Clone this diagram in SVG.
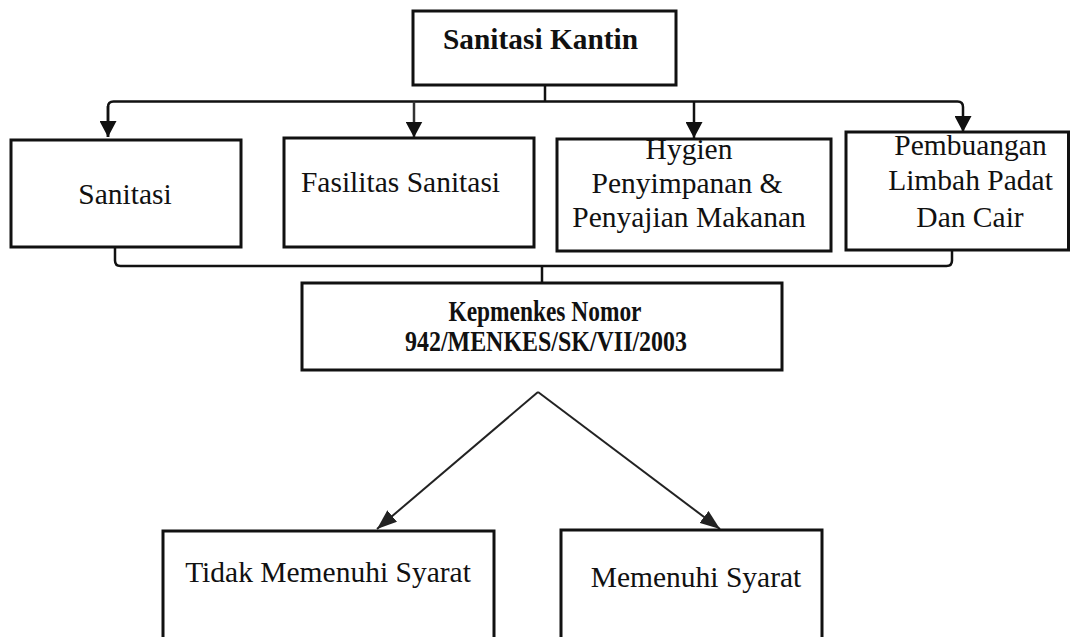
<svg xmlns="http://www.w3.org/2000/svg" width="1070" height="637" viewBox="0 0 1070 637">
<style>
.box{fill:#fff;stroke:#111;stroke-width:3}
.t{font-family:"Liberation Serif","Times New Roman",serif;font-size:29.5px;fill:#111;text-anchor:middle}
.b{font-weight:bold}
.c{fill:none;stroke:#111;stroke-width:2.5}
.d{fill:none;stroke:#222;stroke-width:2}
</style>
<defs>
<marker id="ah" markerUnits="userSpaceOnUse" markerWidth="17" markerHeight="17" viewBox="0 0 17 17" refX="16" refY="8.5" orient="auto">
<path d="M0,0 L16,8.5 L0,17 Z" fill="#111"/>
</marker>
<marker id="ah2" markerUnits="userSpaceOnUse" markerWidth="20" markerHeight="15" viewBox="0 0 20 15" refX="20" refY="7.5" orient="auto">
<path d="M0,0 L20,7.5 L0,15 Z" fill="#222"/>
</marker>
</defs>
<rect width="1070" height="637" fill="#fff"/>
<g id="connectors">
<line class="c" x1="545" y1="85" x2="545" y2="101.5"/>
<path class="c" d="M108,137 V107 Q108,101.5 113.5,101.5 H957.5 Q963,101.5 963,107 V132" marker-end="url(#ah)"/>
<path class="c" d="M108,106 V137" marker-end="url(#ah)"/>
<line class="c" x1="414" y1="101.5" x2="414" y2="137.5" marker-end="url(#ah)" style="stroke:#333"/>
<line class="c" x1="694" y1="101.5" x2="694" y2="138" marker-end="url(#ah)"/>
<path class="c" d="M115,240 V260.5 Q115,266 120.5,266 H946.5 Q952,266 952,260.5 V240"/>
<line class="c" x1="542" y1="266" x2="542" y2="283"/>
<line class="d" x1="538" y1="392" x2="377" y2="529" marker-end="url(#ah2)"/>
<line class="d" x1="538" y1="392" x2="720" y2="529" marker-end="url(#ah2)"/>
</g>
<g id="n-sanitasi-kantin">
<rect class="box" x="413" y="11" width="263" height="74"/>
<text class="t b" x="540.5" y="49" font-size="31" textLength="195" lengthAdjust="spacingAndGlyphs">Sanitasi Kantin</text>
</g>
<g id="n-sanitasi">
<rect class="box" x="11" y="140" width="230" height="107"/>
<text class="t" x="125" y="204">Sanitasi</text>
</g>
<g id="n-fasilitas">
<rect class="box" x="284" y="138" width="250" height="109"/>
<text class="t" x="400.5" y="192">Fasilitas Sanitasi</text>
</g>
<g id="n-hygien">
<rect class="box" x="557" y="139" width="274" height="112"/>
<text class="t" x="689" y="159">Hygien</text>
<text class="t" x="687" y="193">Penyimpanan &amp;</text>
<text class="t" x="689" y="227">Penyajian Makanan</text>
</g>
<g id="n-pembuangan">
<rect class="box" x="846" y="132" width="222.5" height="118"/>
<text class="t" x="970.5" y="155">Pembuangan</text>
<text class="t" x="970.5" y="190">Limbah Padat</text>
<text class="t" x="970" y="227">Dan Cair</text>
</g>
<g id="n-kepmenkes">
<rect class="box" x="302" y="283" width="480" height="87"/>
<text class="t b" x="545" y="321" font-size="23" textLength="193" lengthAdjust="spacingAndGlyphs">Kepmenkes Nomor</text>
<text class="t b" x="546" y="351" font-size="23" textLength="282" lengthAdjust="spacingAndGlyphs">942/MENKES/SK/VII/2003</text>
</g>
<g id="n-tidak">
<rect class="box" x="163" y="531" width="331" height="130"/>
<text class="t" x="328" y="582">Tidak Memenuhi Syarat</text>
</g>
<g id="n-memenuhi">
<rect class="box" x="561" y="530" width="261" height="130"/>
<text class="t" x="696" y="587">Memenuhi Syarat</text>
</g>
</svg>
